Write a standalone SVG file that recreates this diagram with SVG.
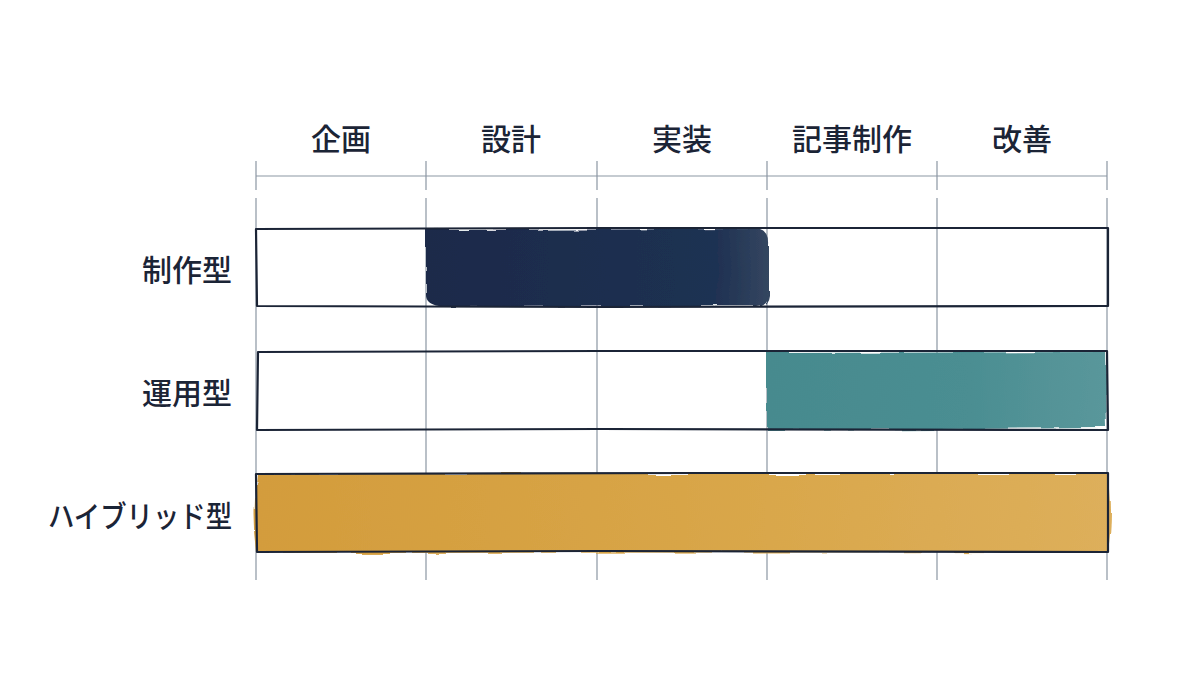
<svg xmlns="http://www.w3.org/2000/svg" width="1200" height="675" viewBox="0 0 1200 675">
<style>
.hdr{font-family:"Noto Sans CJK JP","Noto Sans",sans-serif;font-size:30px;font-weight:500;fill:#1b2436;text-anchor:middle}
.row{font-family:"Noto Sans CJK JP","Noto Sans",sans-serif;font-size:30px;font-weight:500;fill:#1b2436;text-anchor:end}
.grid{stroke:#8c97a3;stroke-width:1.2;fill:none}
.box{stroke:#1b2436;stroke-width:2.2;fill:none;stroke-linejoin:round}
</style>
<defs>
<filter id="wc" x="-5%" y="-10%" width="110%" height="120%">
<feTurbulence type="fractalNoise" baseFrequency="0.02" numOctaves="3" seed="3" result="n"/>
<feDisplacementMap in="SourceGraphic" in2="n" scale="8"/>
</filter>
<linearGradient id="gNavy" x1="0" x2="1" y1="0" y2="0">
<stop offset="0" stop-color="#1b2a4a"/><stop offset="0.85" stop-color="#1f3152"/><stop offset="1" stop-color="#344660"/>
</linearGradient>
<linearGradient id="gTeal" x1="0" x2="1" y1="0" y2="0">
<stop offset="0" stop-color="#468a8e"/><stop offset="0.6" stop-color="#4b8e92"/><stop offset="1" stop-color="#5a979b"/>
</linearGradient>
<linearGradient id="gGold" x1="0" x2="1" y1="0" y2="0">
<stop offset="0" stop-color="#d39c3c"/><stop offset="0.5" stop-color="#d8a547"/><stop offset="1" stop-color="#ddaf5b"/>
</linearGradient>
</defs>
<rect width="1200" height="675" fill="#ffffff"/>
<g id="headers">
<text class="hdr" x="341" y="150">企画</text>
<text class="hdr" x="511" y="150">設計</text>
<text class="hdr" x="682" y="150">実装</text>
<text class="hdr" x="852" y="150">記事制作</text>
<text class="hdr" x="1022" y="150">改善</text>
</g>
<g id="grid">
<line class="grid" x1="256" y1="176" x2="1107" y2="176"/>
<path class="grid" d="M256 161V190M426 161V190M597 161V190M767 161V190M937 161V190M1107 161V190"/>
<path class="grid" d="M256 198V580M426 198V580M597 198V580M767 198V580M937 198V580M1107 198V580"/>
</g>
<g id="fills">
<path filter="url(#wc)" fill="url(#gNavy)" d="M427 230 L760 229 Q769 232 768 245 L768 294 Q767 305 756 306 L440 307 Q427 305 427 296 Z"/>
<path filter="url(#wc)" fill="url(#gTeal)" d="M767 353 L1105 352 L1107 428 L767 430 Z"/>
<path filter="url(#wc)" fill="url(#gGold)" d="M257 474 L1108 474 Q1114 510 1108 552 L257 553 Q252 515 257 474 Z"/>
</g>
<g id="row-seisaku">
<text class="row" x="232" y="281">制作型</text>
<path class="box" d="M256 229 L600 228 L1108 228 L1108 306 L600 307 L257 306 Z"/>
</g>
<g id="row-unyo">
<text class="row" x="232" y="404">運用型</text>
<path class="box" d="M258 352 L600 351 L1107 351 L1108 430 L600 429 L257 430 Z"/>
</g>
<g id="row-hybrid">
<text class="row" x="232" y="527" textLength="184" lengthAdjust="spacingAndGlyphs">ハイブリッド型</text>
<path class="box" d="M256 474 L700 473 L1108 473 L1108 552 L600 551 L257 552 Z"/>
</g>
</svg>
